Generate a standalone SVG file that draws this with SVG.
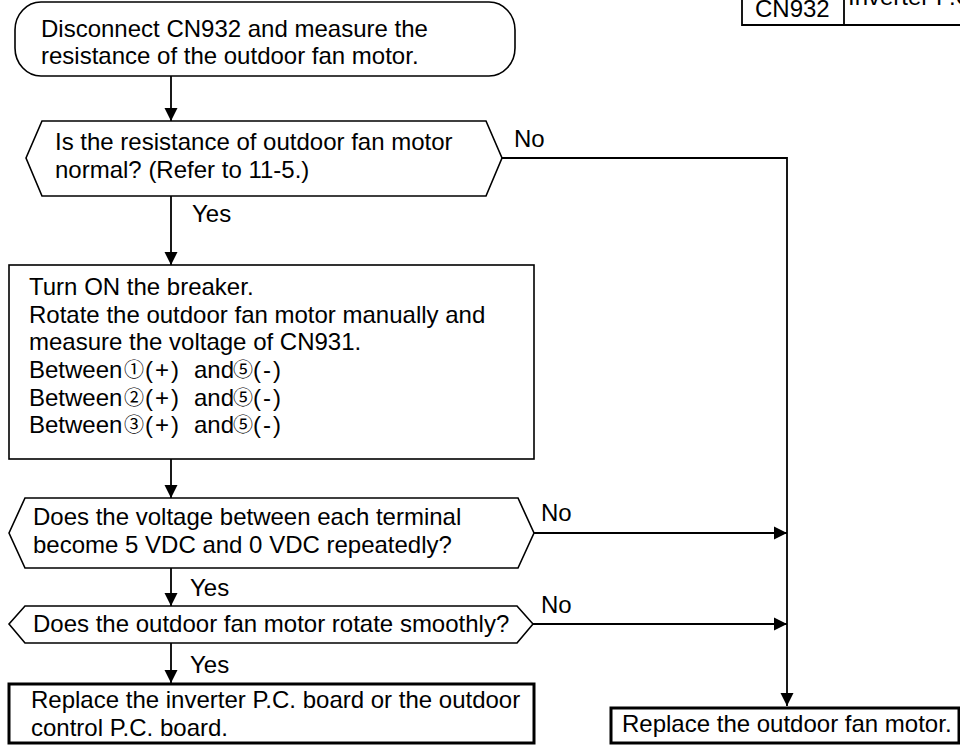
<svg xmlns="http://www.w3.org/2000/svg" width="960" height="745" viewBox="0 0 960 745">
<style>
text{font-family:"Liberation Sans",Arial,sans-serif;font-size:24px;fill:#000}
.c{font-family:"Noto Sans CJK JP",sans-serif;font-size:20px;text-anchor:middle}
.p{letter-spacing:2px}
.n{fill:#fff;stroke:#000;stroke-width:1.6}
.t{fill:#fff;stroke:#000;stroke-width:3}
.e{fill:none;stroke:#000;stroke-width:1.8}
</style>
<defs>
<marker id="ah" markerWidth="14" markerHeight="14" refX="13" refY="7" orient="auto" markerUnits="userSpaceOnUse">
<path d="M0,0.5 L13,7 L0,13.5 Z" fill="#000"/>
</marker>
</defs>
<g id="table">
<path class="e" d="M742,0 V25 H960 M844,0 V25" stroke-width="2"/>
<text x="755" y="17">CN932</text>
<text x="848" y="5">Inverter P.C. board</text>
</g>
<g id="connectors">
<path class="e" d="M171,76 V121" marker-end="url(#ah)"/>
<path class="e" d="M171,196 V265" marker-end="url(#ah)"/>
<path class="e" d="M171,459 V498" marker-end="url(#ah)"/>
<path class="e" d="M171,568 V606" marker-end="url(#ah)"/>
<path class="e" d="M171,643 V683" marker-end="url(#ah)"/>
<path class="e" d="M502,158 H787 V706" marker-end="url(#ah)"/>
<path class="e" d="M534,533 H787" marker-end="url(#ah)"/>
<path class="e" d="M533,624 H787" marker-end="url(#ah)"/>
<text x="192" y="222">Yes</text>
<text x="190" y="596">Yes</text>
<text x="190" y="673">Yes</text>
<text x="514" y="147">No</text>
<text x="541" y="521">No</text>
<text x="541" y="613">No</text>
</g>
<g id="start">
<rect class="n" x="15" y="2" width="500" height="74" rx="26" ry="28"/>
<text x="41" y="37">Disconnect CN932 and measure the</text>
<text x="41" y="64">resistance of the outdoor fan motor.</text>
</g>
<g id="dec1">
<path class="n" d="M26,158 L42,121 H486 L502,158 L486,196 H42 Z"/>
<text x="55" y="150">Is the resistance of outdoor fan motor</text>
<text x="55" y="178">normal? (Refer to 11-5.)</text>
</g>
<g id="step2">
<rect class="n" x="9" y="265" width="525" height="194"/>
<text x="29" y="295">Turn ON the breaker.</text>
<text x="29" y="323">Rotate the outdoor fan motor manually and</text>
<text x="29" y="350">measure the voltage of CN931.</text>
<text x="29" y="378">Between</text><text class="c" x="134" y="377">①</text><text class="p" x="145" y="378">(+)</text><text x="194" y="378">and</text><text class="c" x="243" y="377">⑤</text><text class="p" x="253" y="378">(-)</text>
<text x="29" y="406">Between</text><text class="c" x="134" y="405">②</text><text class="p" x="145" y="406">(+)</text><text x="194" y="406">and</text><text class="c" x="243" y="405">⑤</text><text class="p" x="253" y="406">(-)</text>
<text x="29" y="433">Between</text><text class="c" x="134" y="432">③</text><text class="p" x="145" y="433">(+)</text><text x="194" y="433">and</text><text class="c" x="243" y="432">⑤</text><text class="p" x="253" y="433">(-)</text>
</g>
<g id="dec2">
<path class="n" d="M9,533 L25,498 H518 L534,533 L518,568 H25 Z"/>
<text x="33" y="525">Does the voltage between each terminal</text>
<text x="33" y="553">become 5 VDC and 0 VDC repeatedly?</text>
</g>
<g id="dec3">
<path class="n" d="M9,624 L25,606 H517 L533,624 L517,643 H25 Z"/>
<text x="33" y="632">Does the outdoor fan motor rotate smoothly?</text>
</g>
<g id="end1">
<rect class="t" x="9" y="684" width="525" height="59"/>
<text x="31" y="708">Replace the inverter P.C. board or the outdoor</text>
<text x="31" y="736">control P.C. board.</text>
</g>
<g id="end2">
<rect class="t" x="611" y="708" width="348" height="35"/>
<text x="622" y="732">Replace the outdoor fan motor.</text>
</g>
</svg>
